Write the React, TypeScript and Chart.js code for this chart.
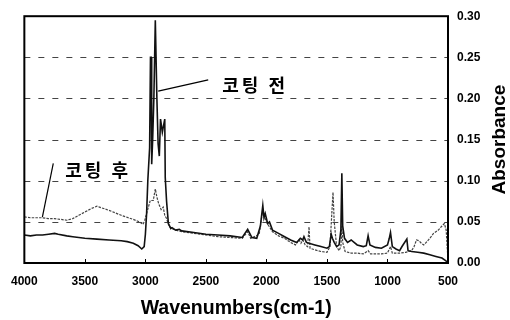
import React, { useEffect, useRef } from "react";
import { Chart, registerables } from "chart.js";

Chart.register(...registerables);

// 코팅 전 (solid)
const wnBefore = [4000,3950,3900,3850,3800,3750,3720,3650,3600,3500,3400,3300,3200,3150,3100,3060,3030,3010,3000,2990,2980,2965,2958,2952,2948,2940,2930,2918,2905,2895,2885,2875,2860,2840,2836,2825,2810,2790,2780,2750,2720,2700,2600,2500,2400,2300,2200,2155,2120,2080,2050,2030,2020,2010,1990,1975,1950,1900,1850,1800,1750,1720,1700,1690,1670,1600,1550,1500,1480,1465,1455,1440,1420,1400,1385,1377,1370,1355,1330,1300,1250,1200,1175,1160,1145,1100,1050,1000,985,975,960,930,900,880,840,830,800,750,700,650,600,550,520,500];
const absBefore = [0.034,0.033,0.034,0.034,0.035,0.036,0.035,0.033,0.032,0.030,0.029,0.028,0.027,0.026,0.024,0.021,0.017,0.020,0.035,0.060,0.100,0.140,0.250,0.250,0.120,0.150,0.200,0.295,0.200,0.145,0.130,0.175,0.159,0.175,0.104,0.075,0.048,0.042,0.043,0.040,0.041,0.039,0.037,0.035,0.034,0.033,0.031,0.041,0.031,0.030,0.045,0.070,0.055,0.060,0.048,0.050,0.040,0.036,0.032,0.028,0.025,0.030,0.028,0.032,0.025,0.022,0.020,0.018,0.020,0.035,0.030,0.025,0.020,0.022,0.040,0.109,0.045,0.030,0.025,0.028,0.022,0.020,0.021,0.033,0.022,0.019,0.018,0.022,0.030,0.037,0.020,0.017,0.015,0.020,0.029,0.015,0.014,0.013,0.012,0.010,0.008,0.006,0.003,0.000];

// 코팅 후 (dotted)
const wnAfter = [4000,3950,3900,3850,3800,3750,3700,3650,3600,3550,3500,3450,3400,3380,3300,3200,3100,3050,3020,3005,2990,2975,2960,2935,2918,2905,2890,2870,2853,2840,2825,2810,2790,2750,2700,2600,2500,2400,2300,2200,2155,2130,2060,2040,2030,2020,2000,1980,1950,1900,1850,1800,1760,1730,1715,1700,1680,1660,1648,1640,1600,1550,1500,1475,1460,1450,1440,1420,1400,1385,1377,1370,1350,1300,1250,1200,1160,1140,1100,1050,1000,975,960,900,850,800,780,760,740,720,700,680,650,620,580,550,530,515,505,500];
const absAfter = [0.056,0.055,0.055,0.055,0.054,0.054,0.053,0.052,0.054,0.058,0.062,0.066,0.069,0.068,0.064,0.058,0.053,0.050,0.047,0.052,0.060,0.068,0.076,0.076,0.090,0.080,0.072,0.065,0.068,0.058,0.054,0.047,0.042,0.040,0.038,0.036,0.034,0.032,0.031,0.030,0.038,0.030,0.035,0.055,0.065,0.058,0.050,0.045,0.038,0.033,0.030,0.025,0.022,0.028,0.024,0.028,0.022,0.020,0.044,0.018,0.016,0.014,0.013,0.020,0.060,0.086,0.050,0.020,0.015,0.020,0.045,0.025,0.014,0.012,0.012,0.011,0.015,0.011,0.011,0.011,0.012,0.020,0.012,0.012,0.013,0.015,0.020,0.028,0.027,0.024,0.022,0.025,0.030,0.036,0.040,0.045,0.048,0.040,0.015,0.005];

const xTicks = [4000, 3500, 3000, 2500, 2000, 1500, 1000, 500];
const yTicks = [0, 0.05, 0.1, 0.15, 0.2, 0.25, 0.3];

const labelBefore = "코팅 전";
const labelAfter = "코팅 후";
const yTitle = "Absorbance";
// annotation anchors in data units [wavenumber, absorbance]
const annBeforeText = [2365, 0.2159];
const annBeforeLine = [[2894, 0.209], [2481, 0.2226]];
const annAfterText = [3662, 0.1131];
const annAfterLine = [[3761, 0.121], [3851, 0.0557]];

const toPts = (xs: number[], ys: number[]) => xs.map((x, i) => ({ x, y: ys[i] }));

const gridPlugin = {
  id: "dashGrid",
  beforeDatasetsDraw(chart: any) {
    const { ctx, chartArea: a, scales } = chart;
    ctx.save();
    ctx.strokeStyle = "#444";
    ctx.lineWidth = 1;
    ctx.setLineDash([6, 8]);
    yTicks.forEach((v) => {
      if (v <= 0 || v >= 0.3) return;
      const py = Math.round(scales.y.getPixelForValue(v)) + 0.5;
      ctx.beginPath();
      ctx.moveTo(a.left, py);
      ctx.lineTo(a.right, py);
      ctx.stroke();
    });
    ctx.restore();
  },
};

const framePlugin = {
  id: "frameAndNotes",
  afterDraw(chart: any) {
    const { ctx, chartArea: a, scales } = chart;
    const xs = scales.x, ys = scales.y;
    ctx.save();
    ctx.strokeStyle = "#000";
    ctx.lineWidth = 1;
    xTicks.forEach((v) => {
      const px = Math.round(xs.getPixelForValue(v)) + 0.5;
      ctx.beginPath();
      ctx.moveTo(px, a.bottom);
      ctx.lineTo(px, a.bottom - 4);
      ctx.stroke();
    });
    ctx.lineWidth = 2;
    ctx.strokeRect(a.left, a.top, a.right - a.left, a.bottom - a.top);
    ctx.lineWidth = 1.2;
    [annBeforeLine, annAfterLine].forEach((ln) => {
      ctx.beginPath();
      ctx.moveTo(xs.getPixelForValue(ln[0][0]), ys.getPixelForValue(ln[0][1]));
      ctx.lineTo(xs.getPixelForValue(ln[1][0]), ys.getPixelForValue(ln[1][1]));
      ctx.stroke();
    });
    ctx.fillStyle = "#000";
    ctx.font = "bold 18px 'Noto Sans CJK KR', sans-serif";
    (ctx as any).letterSpacing = "3px";
    ctx.textBaseline = "middle";
    ctx.textAlign = "left";
    ctx.fillText(labelBefore, xs.getPixelForValue(annBeforeText[0]), ys.getPixelForValue(annBeforeText[1]));
    ctx.fillText(labelAfter, xs.getPixelForValue(annAfterText[0]), ys.getPixelForValue(annAfterText[1]));
    (ctx as any).letterSpacing = "0px";
    ctx.translate(500, (a.top + a.bottom) / 2);
    ctx.rotate(-Math.PI / 2);
    ctx.textAlign = "center";
    ctx.font = "bold 19px 'Liberation Sans', Arial, sans-serif";
    ctx.fillText(yTitle, 0, 0);
    ctx.restore();
  },
};

export default function App() {
  const ref = useRef<HTMLCanvasElement | null>(null);
  useEffect(() => {
    if (!ref.current) return;
    const chart = new Chart(ref.current, {
      type: "line",
      data: {
        datasets: [
          {
            label: labelBefore,
            data: toPts(wnBefore, absBefore),
            borderColor: "#111",
            borderWidth: 1.6,
            pointRadius: 0,
            tension: 0,
            fill: false,
          },
          {
            label: labelAfter,
            data: toPts(wnAfter, absAfter),
            borderColor: "#444",
            borderWidth: 1.2,
            borderDash: [2.5, 1.2],
            pointRadius: 0,
            tension: 0,
            fill: false,
          },
        ],
      },
      options: {
        responsive: false,
        animation: false,
        layout: { padding: { left: 24, top: 15, right: 0, bottom: 0 } },
        plugins: { legend: { display: false }, tooltip: { enabled: false } },
        scales: {
          x: {
            type: "linear",
            reverse: true,
            min: 500,
            max: 4000,
            afterBuildTicks: (s: any) => { s.ticks = xTicks.map((v) => ({ value: v })); },
            afterFit: (s: any) => { s.height = 57; },
            grid: { display: false, drawTicks: false },
            border: { display: false },
            ticks: {
              padding: 11,
              color: "#000",
              maxRotation: 0,
              font: { family: "'Liberation Sans', Arial, sans-serif", size: 12, weight: "bold" },
              callback: (v: any) => String(v),
            },
            title: {
              display: true,
              text: "Wavenumbers(cm-1)",
              color: "#000",
              font: { family: "'Liberation Sans', Arial, sans-serif", size: 19.5, weight: "bold" },
              padding: { top: 2, bottom: 0 },
            },
          },
          y: {
            type: "linear",
            position: "right",
            min: 0,
            max: 0.3,
            afterBuildTicks: (s: any) => { s.ticks = yTicks.map((v) => ({ value: v })); },
            afterFit: (s: any) => { s.width = 62; },
            grid: { display: false, drawTicks: false },
            border: { display: false },
            ticks: {
              padding: 9,
              color: "#000",
              font: { family: "'Liberation Sans', Arial, sans-serif", size: 12, weight: "bold" },
              callback: (v: any) => Number(v).toFixed(2),
            },
            title: { display: false },
          },
        },
      },
      plugins: [gridPlugin, framePlugin],
    } as any);
    return () => chart.destroy();
  }, []);
  return (
    <div style={{ position: "fixed", left: 0, top: 0, width: 510, height: 320, background: "#fff" }}>
      <canvas ref={ref} width={510} height={320} />
    </div>
  );
}
